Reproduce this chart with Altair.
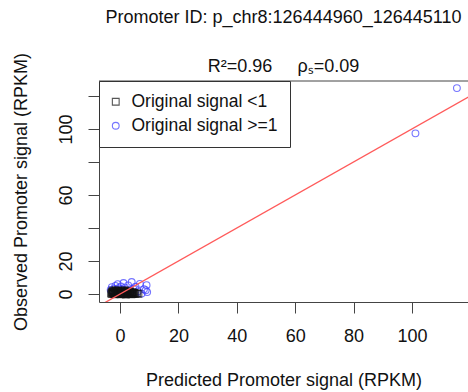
import altair as alt
import pandas as pd

# Promoters whose original signal was >= 1 (blue circles)
hi_pred = [-3.2, -2.8, -2.5, -2.0, -1.6, -1.2, -0.8, -0.5, -0.2, 0.3, 0.7, 1.2, 1.7,
           2.2, 2.8, 3.4, 4.0, 4.6, 5.3, 6.1, 6.8, 7.4, 8.2, 9.1, 9.3, 8.8, -1.0, 0.5,
           2.5, 3.5, 101.2, 115.4]
hi_obs = [2.5, 4.2, 1.8, 3.3, 5.0, 2.2, 6.0, 3.5, 1.5, 4.6, 2.8, 6.7, 3.9,
          2.0, 5.3, 1.2, 7.3, 3.1, 4.4, 1.6, 6.2, 0.3, 3.0, 5.4, 1.2, 2.3, 0.8, 0.5,
          0.9, 2.6, 97.4, 124.8]

# Promoters whose original signal was < 1 (dark squares)
lo_pred = [-3.0, -2.7, -2.3, -2.0, -1.7, -1.4, -1.1, -0.8, -0.5, -0.2, 0.1, 0.4, 0.7,
           1.0, 1.3, 1.6, 1.9, 2.2, 2.5, 2.8, 3.1, 3.4, 3.7, 4.0, 4.4, 4.8, 5.3, -2.5,
           -1.5, -0.6, 0.5, 1.5, 2.4, 3.3, 4.2, 5.8, 6.3, -2.2, -1.2, -0.3, 0.9, 1.8,
           2.7, 3.6, 4.6, -1.9, 0.2, 2.0, 3.9, -2.9, -2.4, -1.8, -1.3, -0.9, -0.4,
           0.0, 0.6, 1.1, 1.4, 2.1, 2.6, 3.0, 3.5, 4.1, 4.5, 5.0, -2.6, -1.0, 1.2,
           2.9]
lo_obs = [0.6, 1.2, 0.2, 0.9, 1.5, 0.4, 1.1, 0.0, 0.7, 1.4, 0.3, 0.9, 0.1,
          1.3, 0.5, 0.8, 0.2, 1.0, 0.4, 0.7, 0.1, 0.9, 0.3, 0.6, 0.2, 0.5, 0.1, 2.0,
          2.4, 2.1, 1.9, 2.3, 1.8, 1.6, 1.2, 0.4, 0.2, 1.6, 1.8, 0.5, 1.7, 1.4,
          1.2, 1.0, 0.9, -0.2, -0.1, -0.3, -0.2, 0.0, 0.8, 0.3, 0.6, 0.2, 1.0,
          0.6, 0.4, 0.8, 0.0, 0.6, 0.1, 0.5, 0.7, 0.1, 0.7, 0.3, 1.1, 1.3, 1.1,
          1.5]

# Identity reference line (observed = predicted)
line_pred = [-10, 130]
line_obs = [-10, 130]

groups = ["Original signal <1", "Original signal >=1"]
x_ticks = [0, 20, 40, 60, 80, 100, 120]
y_ticks = [0, 20, 40, 60, 80, 100, 120]

points = pd.DataFrame({
    "pred": hi_pred + lo_pred,
    "obs": hi_obs + lo_obs,
    "group": [groups[1]] * len(hi_pred) + [groups[0]] * len(lo_pred),
})
ref = pd.DataFrame({"pred": line_pred, "obs": line_obs})

FONT = "Liberation Sans"
NBSP = "\u00a0"
xscale = alt.Scale(domain=[-7.2, 119.2], nice=False, zero=False)
yscale = alt.Scale(domain=[-4.8, 129.1], nice=False, zero=False)

x_axis = alt.Axis(values=x_ticks, title="Predicted Promoter signal (RPKM)",
                  labelPadding=14, titlePadding=26, labelOverlap=False)
y_axis = alt.Axis(values=y_ticks, title="Observed Promoter signal (RPKM)",
                  labelAngle=-90, labelAlign="center", labelBaseline="bottom",
                  labelPadding=13, titlePadding=27, labelOverlap=False,
                  labelExpr="(datum.value == 40 || datum.value == 80 || datum.value == 120) ? '' : datum.label")

scatter = alt.Chart(points).mark_point(filled=False, strokeWidth=1.1, size=46, clip=True).encode(
    x=alt.X("pred:Q", scale=xscale, axis=x_axis),
    y=alt.Y("obs:Q", scale=yscale, axis=y_axis),
    shape=alt.Shape("group:N", scale=alt.Scale(domain=groups, range=["square", "circle"]),
                    legend=alt.Legend(title=None)),
    color=alt.Color("group:N", scale=alt.Scale(domain=groups, range=["#111111", "#3c3cff"]),
                    legend=alt.Legend(title=None)),
)

identity = alt.Chart(ref).mark_line(color="#ff5a5a", strokeWidth=1.3, clip=True).encode(
    x=alt.X("pred:Q", scale=xscale, axis=x_axis),
    y=alt.Y("obs:Q", scale=yscale, axis=y_axis),
)

# top edge of the plot frame
frame_top = alt.Chart(pd.DataFrame({"t": [0]})).mark_rule(color="#444444", strokeWidth=1).encode(
    x=alt.value(0), x2=alt.value(369), y=alt.value(0)
)

chart = alt.layer(scatter, identity, frame_top).properties(
    width=369,
    height=221,
    autosize=alt.AutoSizeParams(type="none"),
    padding={"left": 99, "top": 81, "right": 0, "bottom": 90},
    title=alt.TitleParams(
        text="Promoter ID: p_chr8:126444960_126445110",
        subtitle=f"R²=0.96{NBSP * 5}ρₛ=0.09",
        anchor="middle", frame="group",
        font=FONT, fontSize=18, fontWeight="normal", color="#111111",
        subtitleFont=FONT, subtitleFontSize=18, subtitleColor="#111111",
        subtitlePadding=31, offset=-24,
    ),
).configure_view(stroke=None).configure_axis(
    grid=False,
    domainColor="#444444", tickColor="#444444", tickSize=11, domainWidth=1,
    labelFont=FONT, labelFontSize=18, labelColor="#111111",
    titleFont=FONT, titleFontSize=18, titleFontWeight="normal", titleColor="#111111",
).configure_legend(
    orient="none", legendX=0, legendY=0,
    strokeColor="#333333", fillColor="white", padding=12, rowPadding=5,
    labelFont=FONT, labelFontSize=17.5, labelColor="#111111", labelOffset=7,
    symbolOffset=-4, symbolSize=46, symbolStrokeWidth=1.1, symbolType="circle",
)

chart.save("out.html", embed_options={"renderer": "svg", "actions": False})
